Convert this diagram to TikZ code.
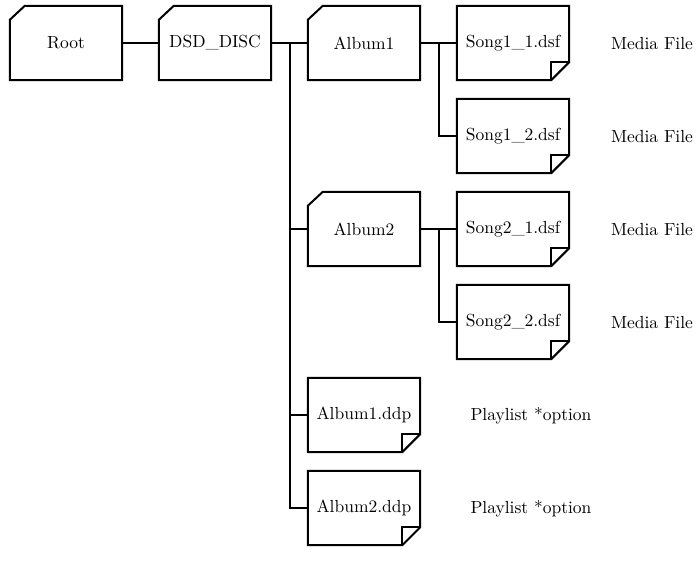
\documentclass[tikz,border=0pt]{standalone}
\usepackage{fontspec}
\setmainfont{lmroman10-regular}[Extension=.otf]
\usetikzlibrary{calc}
\begin{document}
\begin{tikzpicture}[x=1pt,y=-1pt,
  every node/.style={font=\fontsize{17.5}{21}\selectfont},
  box/.style={minimum width=112pt,minimum height=74pt,inner sep=0pt},
  outline/.style={line width=2pt,line join=miter},
  conn/.style={line width=2pt}]
\useasboundingbox[fill=white] (0,0) rectangle (700,561);
% folders
\node[box] (root)  at (66,43)  {Root};
\node[box] (disc)  at (215,43) {DSD\_DISC};
\node[box] (alb1)  at (364,43) {Album1};
\node[box] (alb2)  at (364,229){Album2};
% files
\node[box] (s11) at (513,43)  {Song1\_1.dsf};
\node[box] (s12) at (513,136) {Song1\_2.dsf};
\node[box] (s21) at (513,229) {Song2\_1.dsf};
\node[box] (s22) at (513,322) {Song2\_2.dsf};
\node[box] (d1)  at (364,415) {Album1.ddp};
\node[box] (d2)  at (364,508) {Album2.ddp};
% labels
\node (m1) at (652,44)  {Media File};
\node (m2) at (652,137) {Media File};
\node (m3) at (652,230) {Media File};
\node (m4) at (652,323) {Media File};
\node (p1) at (531,416) {Playlist *option};
\node (p2) at (531,509) {Playlist *option};
% shapes
\foreach \n in {root,disc,alb1,alb2}
  \draw[outline] ([yshift=-14pt]\n.north west) -- ([xshift=15pt]\n.north west)
     -- (\n.north east) -- (\n.south east) -- (\n.south west) -- cycle;
\foreach \n in {s11,s12,s21,s22,d1,d2}{
  \draw[outline] (\n.north west) -- (\n.north east) -- ([yshift=18pt]\n.south east)
     -- ([xshift=-18pt]\n.south east) -- (\n.south west) -- cycle;
  \draw[outline] ([yshift=18pt]\n.south east) -- ([xshift=-18pt,yshift=18pt]\n.south east)
     -- ([xshift=-18pt]\n.south east);
}
% connectors
\draw[conn] (root.east) -- (disc.west);
\draw[conn] (disc.east) -- (alb1.west);
\coordinate (t) at ($(disc.east)+(19,0)$);
\draw[conn] (t) |- (alb2.west);
\draw[conn] (t) |- (d1.west);
\draw[conn] (t) |- (d2.west);
\draw[conn] (alb1.east) -- (s11.west);
\coordinate (a1) at ($(alb1.east)+(19,0)$);
\draw[conn] (a1) |- (s12.west);
\draw[conn] (alb2.east) -- (s21.west);
\coordinate (a2) at ($(alb2.east)+(19,0)$);
\draw[conn] (a2) |- (s22.west);
\end{tikzpicture}
\end{document}
